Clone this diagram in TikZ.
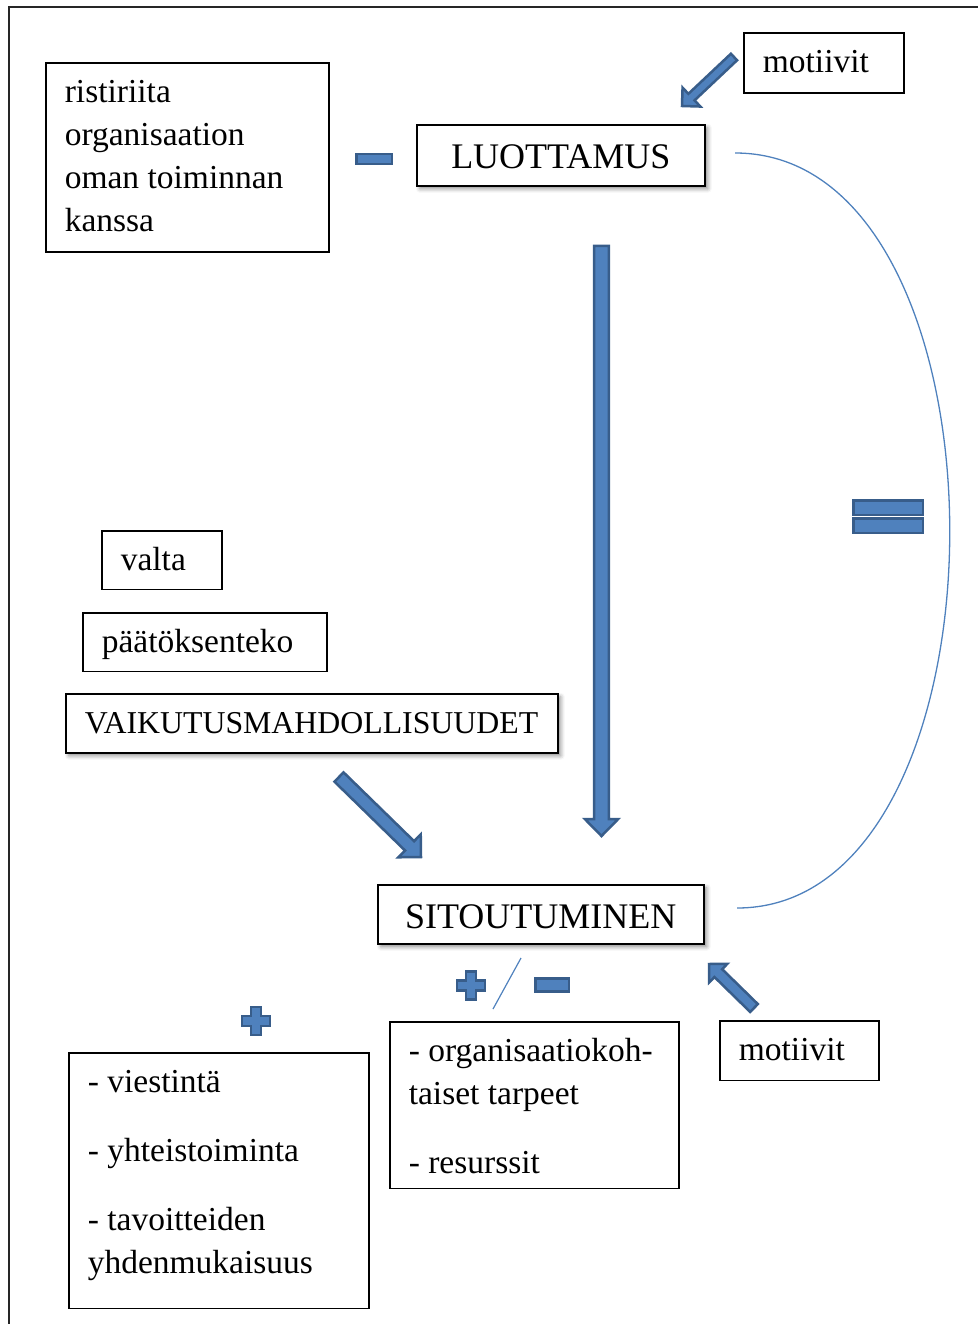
\documentclass[tikz,border=0pt]{standalone}
\usepackage{fontspec}
\setmainfont{Liberation Serif}
\usetikzlibrary{calc,shadows.blur}
\definecolor{arrline}{RGB}{56,93,138}
\definecolor{arrfill}{RGB}{79,129,189}
\tikzset{
  box/.style={draw=black, line width=1.6pt, anchor=north west, align=flush left, inner xsep=19pt, inner ysep=0pt, text height=39.5pt, font=\fontsize{33.5}{43}\selectfont},
  shade/.style={fill=white, blur shadow={shadow xshift=3pt, shadow yshift=-3pt, shadow blur radius=4pt, shadow opacity=45}},
  bigbox/.style={box, shade, align=center, text height=44pt, font=\fontsize{36}{43}\selectfont},
  barrow/.style n args={3}{draw=arrline, fill=arrfill, line width=2.5pt, to path={let \p1=(\tikztostart), \p2=(\tikztotarget), \p3=($(\p2)!#3!(\p1)$) in ($(\p1)!#1!90:(\p2)$) -- ($(\p3)!#1!-90:(\p1)$) -- ($(\p3)!#2!-90:(\p1)$) -- (\p2) -- ($(\p3)!#2!90:(\p1)$) -- ($(\p3)!#1!90:(\p1)$) -- ($(\p1)!#1!-90:(\p2)$) -- cycle}},
  sign/.style={draw=arrline, fill=arrfill, line width=2.5pt},
  link/.style={arrfill, line width=1.3pt},
  plussign/.pic={\draw[sign] (-5,-14) -- ++(10,0) -- ++(0,9) -- ++(9,0) -- ++(0,10) -- ++(-9,0) -- ++(0,9) -- ++(-10,0) -- ++(0,-9) -- ++(-9,0) -- ++(0,-10) -- ++(9,0) -- cycle;}
}
\begin{document}
\begin{tikzpicture}[x=1pt, y=-1pt]
  \useasboundingbox (0,0) rectangle (978,1324);
  \draw[line width=2pt, black!85] (9,1324) -- (9,7) -- (978,7);

  \node[box, text width=122pt, text depth=21pt] (mot1) at (743,32) {motiivit};
  \node[box, text width=245pt, text depth=150pt] (rist) at (45,62) {ristiriita\\organisaation\\oman toiminnan\\kanssa};
  \node[bigbox, text width=250pt, text depth=17pt] (luot) at (416,124) {LUOTTAMUS};
  \node[box, text width=82pt, text depth=19pt] (valta) at (101,530) {valta};
  \node[box, text width=206pt, text depth=19pt] (paat) at (82,612) {päätöksenteko};
  \node[box, shade, text width=454pt, text depth=19.5pt, font=\fontsize{31.8}{43}\selectfont] (vaik) at (65,693) {VAIKUTUSMAHDOLLISUUDET};
  \node[bigbox, text width=288pt, text depth=15pt] (sit) at (377,884) {SITOUTUMINEN};
  \node[box, text width=251pt, text depth=127pt] (org) at (389,1021) {- organisaatiokoh-\\taiset tarpeet\\[26pt]- resurssit};
  \node[box, text width=262pt, text depth=216pt] (viest) at (68,1052) {- viestintä\\[26pt]- yhteistoiminta\\[26pt]- tavoitteiden\\yhdenmukaisuus};
  \node[box, text width=121pt, text depth=20pt] (mot2) at (719,1020) {motiivit};

  % block arrows
  \coordinate (m1tail) at (734,57);
  \coordinate (m1tip) at (682,106);
  \coordinate (downtail) at (601.5,246);
  \coordinate (downtip) at (601.5,836);
  \coordinate (vaiktail) at (339,777);
  \coordinate (vaiktip) at (421,857);
  \coordinate (m2tail) at (754,1008);
  \coordinate (m2tip) at (709,964);
  \draw[barrow={4.5pt}{13pt}{13pt}] (m1tail) to (m1tip);
  \draw[barrow={7.3pt}{16.7pt}{17pt}] (downtail) to (downtip);
  \draw[barrow={6.5pt}{16pt}{16pt}] (vaiktail) to (vaiktip);
  \draw[barrow={5.5pt}{13pt}{13pt}] (m2tail) to (m2tip);

  % signs
  \draw[sign] (356.25,154.25) rectangle (391.75,164.25);
  \draw[sign] (853.25,500.25) rectangle (922.75,514.75);
  \draw[sign] (853.25,518.25) rectangle (922.75,532.75);
  \pic at (256,1021) {plussign};
  \pic at (471,985.5) {plussign};
  \draw[link, line width=1.2pt] (493,1009) -- (521,958);
  \draw[sign] (535.25,978.5) rectangle (568.75,991.5);

  \coordinate (ctop) at (735,153);
  \coordinate (cbot) at (737,908);
  \draw[link] (ctop) .. controls +(286,0) and +(284,0) .. (cbot);
\end{tikzpicture}
\end{document}
